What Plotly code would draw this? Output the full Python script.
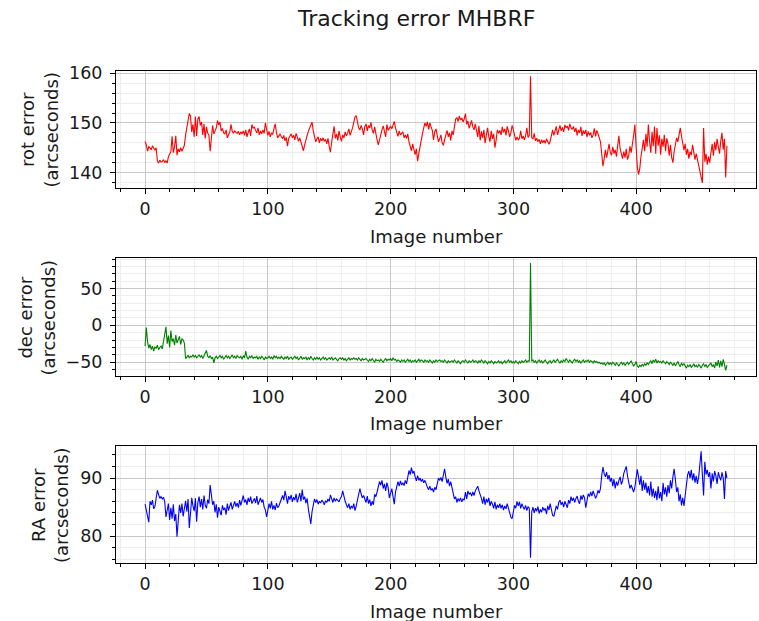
import plotly.graph_objects as go

# Image index shared by the three panels
image_number = list(range(475))

# Rotation tracking error (arcseconds)
rot_error = [
    146.3, 145.6, 144.3, 145.2, 145.0, 144.6, 145.4, 144.8, 144.5, 145.0,
    142.3, 141.9, 142.5, 142.1, 142.2, 142.6, 142.0, 142.4, 141.9, 143.2,
    143.8, 144.2, 147.3, 144.0, 145.2, 147.4, 143.5, 144.8, 144.2, 145.0,
    144.3, 144.8, 145.5, 147.6, 148.8, 150.5, 151.9, 151.4, 148.2, 149.7,
    147.2, 151.3, 147.4, 150.8, 151.3, 149.5, 150.2, 147.6, 149.8, 146.9,
    149.2, 148.0, 147.5, 144.3, 146.8, 149.5, 147.8, 148.3, 149.0, 150.5,
    149.6, 150.2, 148.4, 148.9, 148.0, 147.8, 148.6, 147.0, 147.8, 148.2,
    149.7, 148.3, 148.0, 148.4, 148.1, 147.9, 148.3, 147.6, 148.2, 147.8,
    148.4, 147.5, 148.6, 147.2, 148.1, 148.8, 147.4, 149.7, 148.9, 149.2,
    148.5, 148.0, 149.0, 147.6, 148.4, 147.8, 148.6, 147.9, 150.0, 148.2,
    147.5, 148.3, 147.2, 148.0, 147.7, 148.9, 149.8, 148.1, 147.0, 147.4,
    147.8, 147.2, 146.8, 147.5, 146.4, 147.1, 145.3, 146.9, 147.3, 147.8,
    147.0, 147.5, 146.6, 147.9, 147.2, 146.3, 147.0, 146.1, 145.2, 144.4,
    145.6, 146.8, 147.5, 148.3, 149.0, 149.6, 150.2, 148.4, 147.1, 146.2,
    146.8, 147.2, 146.0, 146.9, 146.4, 147.0, 146.3, 146.7, 145.8, 146.9,
    145.2, 144.1, 146.2, 147.5, 149.3, 146.9, 147.8, 146.5, 148.4, 147.2,
    146.3, 147.6, 147.0, 148.2, 147.4, 147.9, 148.8, 147.5, 148.2, 149.0,
    150.1, 151.2, 151.5, 150.3, 149.0, 148.6, 149.5, 148.8, 147.6, 149.3,
    149.8, 148.4, 149.5, 149.0, 150.1, 148.6, 147.9, 149.2, 147.4, 146.6,
    145.6, 146.8, 147.5, 148.6, 149.4, 148.0, 147.2, 149.7, 148.5, 148.9,
    149.4, 148.8, 149.6, 150.3, 149.0, 148.1, 147.3, 148.4, 147.6, 147.9,
    148.2, 147.0, 147.6, 146.9, 147.8, 146.2, 145.5, 144.4, 145.8, 144.9,
    143.6, 144.8, 142.3, 143.8, 145.5, 146.8, 147.9, 149.0, 150.0, 149.3,
    150.2, 148.7, 150.0, 149.2, 148.5, 146.6, 148.3, 148.8, 147.6, 146.2,
    146.8, 147.6, 146.0, 145.5, 146.6, 147.4, 148.5, 147.2, 148.0, 146.5,
    148.4, 147.6, 149.8, 150.8, 151.1, 150.3, 151.4, 150.6, 151.0, 150.2,
    150.8, 151.9, 149.7, 150.4, 148.9, 149.6, 150.5, 149.2, 148.6, 149.8,
    148.0, 147.2, 149.4, 146.5, 148.3, 147.0, 148.6, 145.9, 147.5, 149.0,
    147.3, 146.2, 148.4, 146.8, 147.8, 145.0, 146.6, 148.6, 147.9, 148.5,
    147.6, 149.2, 148.1, 148.8, 147.5, 149.3, 148.4, 147.2, 148.0, 149.5,
    148.6, 147.4, 146.5, 147.2, 146.6, 146.9, 148.4, 146.8, 147.4, 146.6,
    147.4, 149.0, 147.1, 147.5, 159.4, 147.0, 146.8, 147.9, 146.4, 146.9,
    146.2, 146.7, 145.8, 146.6, 146.0, 146.5, 145.9, 146.8, 146.1, 145.7,
    146.3, 147.8, 148.6, 147.5, 148.2, 149.3, 147.6, 148.8, 149.5, 148.4,
    149.1, 148.2, 149.6, 149.0, 149.4, 148.5, 149.8, 149.1, 148.7, 149.3,
    148.2, 149.0, 147.5, 148.6, 148.0, 149.2, 147.4, 148.5, 147.8, 148.6,
    147.2, 148.3, 147.5, 148.1, 147.0, 147.6, 148.9, 147.3, 148.5, 147.8,
    147.0, 146.2, 143.8, 141.3, 142.8, 144.6, 143.0, 144.2, 145.8, 144.0,
    143.5, 145.2, 143.8, 144.6, 143.2, 145.4, 147.4, 144.8, 143.6, 142.8,
    144.2, 143.0, 144.8, 142.6, 143.4, 145.3, 144.0, 146.4, 147.5, 149.7,
    144.6, 141.2, 139.6, 140.8, 143.2, 145.0, 146.6, 144.3, 147.8, 145.2,
    149.7, 146.2, 144.0, 148.2, 145.3, 149.3, 143.8, 149.0, 145.4, 147.5,
    143.6, 146.8, 145.2, 147.6, 144.3, 146.9, 145.8, 143.4, 145.6, 143.0,
    142.0, 144.2, 145.8, 147.0, 146.2, 147.6, 149.0, 147.4, 146.0, 144.5,
    145.8, 143.6, 144.8, 142.8, 144.2, 143.5, 145.6, 144.0, 142.6, 143.8,
    142.5, 141.8, 140.6, 138.9, 137.9, 149.0, 142.2, 143.8, 141.6, 143.2,
    142.0, 144.0, 145.8, 143.4, 146.2, 144.5, 146.8, 145.2, 143.8, 146.4,
    148.0, 144.6, 146.8, 139.0, 145.4,
]

# Declination tracking error (arcseconds)
dec_error = [
    -28, -3, -22, -31, -26, -33, -28, -35, -29, -31,
    -27, -33, -30, -28, -32, -20, -12, -2, -25, -14,
    -30, -7, -22, -18, -27, -13, -24, -19, -15, -26,
    -18, -20, -24, -45, -43, -41, -44, -42, -43, -40,
    -43, -41, -44, -42, -40, -43, -41, -45, -42, -39,
    -34, -42, -44, -41, -45, -43, -51, -44, -42, -45,
    -43, -41, -44, -42, -46, -43, -41, -44, -42, -45,
    -43, -40, -44, -42, -45, -41, -43, -44, -42, -46,
    -41, -44, -35, -43, -46, -42, -44, -41, -45, -43,
    -44, -42, -46, -43, -45, -42, -44, -47, -43, -45,
    -44, -42, -45, -43, -46, -41, -44, -42, -45, -43,
    -45, -42, -44, -46, -43, -45, -42, -46, -44, -43,
    -46, -44, -42, -45, -43, -47, -44, -42, -46, -44,
    -45, -43, -47, -44, -46, -42, -45, -47, -44, -46,
    -43, -46, -44, -47, -45, -43, -46, -44, -47, -45,
    -44, -46, -43, -47, -45, -44, -46, -48, -45, -44,
    -46, -44, -47, -45, -48, -46, -44, -47, -45, -46,
    -44, -46, -45, -47, -44, -46, -48, -45, -47, -46,
    -45, -47, -49, -46, -48, -45, -47, -50, -46, -48,
    -47, -49, -46, -48, -50, -47, -45, -48, -46, -47,
    -45, -48, -44, -47, -46, -49, -47, -48, -50, -47,
    -49, -47, -50, -48, -46, -49, -47, -50, -48, -49,
    -47, -50, -48, -46, -49, -47, -48, -50, -47, -49,
    -48, -50, -47, -49, -51, -48, -50, -47, -49, -48,
    -47, -49, -48, -50, -47, -49, -51, -48, -50, -49,
    -48, -50, -47, -49, -51, -48, -50, -52, -49, -48,
    -50, -47, -49, -51, -48, -50, -49, -47, -50, -48,
    -49, -51, -48, -50, -47, -49, -51, -48, -50, -52,
    -49, -51, -48, -50, -52, -49, -51, -50, -48, -51,
    -49, -52, -50, -48, -51, -49, -47, -50, -48, -51,
    -49, -51, -48, -50, -52, -49, -51, -48, -50, -49,
    -47, -50, -48, -49, 84.5, -49, -47, -50, -48, -51,
    -49, -47, -50, -48, -51, -49, -47, -50, -52, -49,
    -48, -51, -49, -47, -50, -48, -46, -49, -51, -48,
    -50, -47, -49, -45, -48, -50, -47, -49, -51, -48,
    -46, -49, -47, -50, -48, -51, -49, -47, -50, -48,
    -49, -47, -50, -48, -49, -51, -48, -50, -49, -51,
    -50, -52, -51, -53, -51, -54, -52, -50, -53, -51,
    -53, -50, -52, -54, -51, -53, -55, -52, -50, -53,
    -51, -54, -52, -50, -53, -51, -48, -52, -55, -53,
    -49, -55, -57, -54, -56, -53, -55, -52, -54, -51,
    -53, -50, -48, -52, -47, -50, -46, -51, -48, -50,
    -49, -51, -48, -50, -52, -49, -51, -53, -50, -52,
    -54, -51, -55, -52, -49, -53, -56, -51, -54, -52,
    -55, -58, -54, -56, -53, -57, -55, -52, -56, -54,
    -57, -53, -55, -58, -54, -52, -56, -53, -57, -55,
    -54, -51, -56, -53, -58, -50, -55, -47, -57, -48,
    -56, -46, -53, -61, -54,
]

# Right ascension tracking error (arcseconds)
ra_error = [
    85.5, 84.6, 83.5, 82.4, 86.0, 85.4, 86.2, 84.7, 85.1, 86.3,
    87.9, 87.2, 86.5, 86.8, 86.4, 86.7, 85.9, 83.3, 84.8, 85.6,
    82.8, 84.9, 83.0, 85.5, 82.6, 83.8, 79.9, 83.6, 85.4, 84.0,
    85.6, 83.4, 84.8, 86.1, 84.2, 86.4, 81.4, 83.9, 86.6, 85.2,
    84.3, 86.5, 82.5, 85.8, 86.8, 85.0, 86.4, 84.6, 87.0, 85.3,
    84.8, 86.3, 85.6, 88.8, 87.2, 85.4, 86.0, 84.1, 85.5, 83.2,
    85.0, 84.2, 83.6, 85.3, 84.5, 84.9, 83.7, 85.6, 84.4, 85.2,
    85.8, 84.6, 85.4, 86.0, 85.1, 85.7, 84.9, 86.2, 85.3, 86.0,
    87.0, 85.8, 86.3, 85.4, 86.6, 85.9, 86.8, 85.6, 86.2, 86.5,
    85.7, 86.9, 85.4, 86.2, 86.6, 85.8, 86.3, 85.0, 84.5, 83.3,
    84.4, 85.6, 84.8, 86.0, 84.6, 85.3, 84.5, 85.7, 84.9, 85.2,
    85.8, 86.4, 87.0, 86.2, 87.8, 86.8, 85.6, 86.9, 86.3, 87.1,
    85.9, 86.7, 86.2, 87.3, 85.8, 86.6, 87.4, 86.0, 88.0, 86.3,
    86.8, 85.7, 86.5, 84.7, 83.6, 82.1, 84.2, 85.6, 86.4, 85.8,
    86.3, 85.5, 86.0, 85.7, 86.2, 85.9, 85.4, 86.1, 85.8, 86.4,
    86.0, 87.1, 86.3, 85.8, 86.6, 86.0, 86.4, 86.2, 85.9, 86.5,
    86.8, 87.8, 86.5, 86.0, 85.4, 84.9, 85.6, 84.6, 85.2, 84.8,
    85.6, 84.4, 85.2, 86.4, 87.5, 88.2, 87.3, 86.6, 87.0, 86.4,
    85.8, 86.9, 85.6, 86.3, 85.2, 86.0, 85.4, 87.2, 86.8, 87.6,
    88.6, 89.4, 88.8, 89.6, 88.2, 89.0, 87.8, 89.2, 88.4, 86.6,
    87.4, 88.2, 86.8, 85.5, 87.6, 88.9, 89.4, 88.6, 89.5, 88.8,
    89.2, 88.7, 89.6, 89.0, 90.4, 91.3, 90.6, 91.8, 90.8, 91.2,
    90.2, 89.5, 90.4, 89.6, 90.0, 89.4, 89.8, 89.2, 89.6, 88.9,
    88.4, 88.0, 88.6, 87.9, 88.2, 87.6, 88.4, 88.0, 89.2, 90.0,
    89.6, 90.1, 89.4, 90.3, 91.6, 90.2, 89.1, 89.8, 88.6, 89.4,
    88.2, 87.4, 86.4, 86.8, 85.8, 86.5, 86.0, 86.6, 85.9, 86.4,
    86.2, 87.6, 86.4, 87.8, 87.2, 87.5, 86.9, 87.6, 87.0, 87.8,
    88.2, 88.6, 87.8, 87.2, 86.5, 85.6, 86.8, 85.4, 86.4, 85.8,
    86.6, 85.2, 86.0, 85.5, 84.8, 85.9, 84.6, 85.4, 84.9, 85.6,
    84.8, 85.4, 84.5, 85.2, 84.7, 85.6, 84.9, 83.8, 83.3, 83.0,
    84.2, 85.3, 84.8, 86.0, 85.2, 85.9, 84.8, 85.6, 85.0, 84.6,
    85.3, 84.4, 85.1, 84.8, 76.3, 84.2, 85.0, 84.0, 84.8, 84.3,
    85.1, 83.9, 84.6, 84.1, 85.0, 84.4, 84.8, 83.8, 85.2, 84.5,
    85.6, 84.3, 83.6, 83.4, 84.5, 85.2, 84.6, 85.8, 86.2, 85.4,
    85.9, 85.0, 86.0, 85.4, 84.9, 86.2, 85.6, 86.8, 86.1, 86.6,
    85.8, 86.5, 86.9, 86.0, 85.6, 87.0, 86.3, 87.1, 86.6, 84.9,
    86.4, 87.3, 86.8, 87.6, 86.9, 87.8, 87.2, 86.5, 87.0, 87.9,
    87.4, 88.2, 90.4, 91.9, 90.8, 90.2, 91.0, 89.8, 90.5, 89.4,
    90.0, 88.6, 89.8, 88.2, 89.4, 88.7, 89.6, 90.2, 88.9, 89.5,
    90.8, 91.6, 92.0, 90.4, 89.0, 88.2, 88.8, 88.0, 87.6, 88.4,
    89.6, 91.5, 90.2, 88.8, 90.4, 87.8, 89.6, 88.0, 89.2, 87.4,
    88.6, 87.0, 89.4, 86.8, 88.2, 86.6, 87.8, 86.2, 88.6, 86.5,
    87.6, 86.0, 89.2, 87.2, 88.4, 86.8, 88.8, 87.4, 89.6, 88.2,
    90.2, 91.6, 89.8, 87.6, 88.4, 86.0, 87.2, 85.3, 86.6, 85.2,
    87.0, 89.4, 90.6, 91.2, 90.0, 91.4, 89.6, 90.8, 89.2, 90.4,
    89.0, 90.2, 92.2, 94.6, 90.6, 87.0, 92.8, 90.6, 91.4, 90.2,
    91.0, 88.2, 90.8, 89.4, 91.2, 90.4, 89.0, 91.0, 90.2, 89.6,
    91.0, 90.0, 86.4, 91.2, 90.0,
]

panels = [
    ("rot error", rot_error, "red", 10, 2),
    ("dec error", dec_error, "green", 50, 10),
    ("RA error", ra_error, "blue", 10, 2),
]

FONT = "DejaVu Sans"
TXT = "#1a1a1a"
TICK_SIZE = 17.5
LABEL_SIZE = 18
TITLE_SIZE = 22

W, H = 759, 621
ML, MR, MT, MB = 116, 3, 71, 58
PW, PH = W - ML - MR, H - MT - MB

# vertical extent of each panel, in pixels from the top of the page
panel_px = [(71, 188.3), (257.7, 375.7), (446, 563)]


def py(ypix):
    return (H - MB - ypix) / PH


def padded(vals, frac=0.05):
    lo, hi = min(vals), max(vals)
    pad = (hi - lo) * frac
    return [lo - pad, hi + pad]


fig = go.Figure()
annotations = []
xr = padded(image_number)

for i, (name, vals, color, dmaj, dmin) in enumerate(panels, start=1):
    sfx = "" if i == 1 else str(i)
    fig.add_trace(go.Scatter(
        x=image_number, y=vals, mode="lines",
        line=dict(color=color, width=1.1),
        xaxis="x" + sfx, yaxis="y" + sfx, showlegend=False,
        hoverinfo="skip",
    ))
    top, bot = panel_px[i - 1]
    common = dict(
        showline=True, linecolor="black", linewidth=1, mirror=True,
        ticks="outside", ticklen=5, tickwidth=1, tickcolor="black",
        showgrid=True, gridcolor="#c8c8c8", gridwidth=1, zeroline=False,
        tickfont=dict(family=FONT, size=TICK_SIZE, color=TXT),
    )
    fig.layout["xaxis" + sfx] = dict(
        common, domain=[0, 1], range=xr, anchor="y" + sfx,
        tick0=0, dtick=100,
        minor=dict(dtick=20, tick0=0, ticks="outside", ticklen=3,
                   tickcolor="black", showgrid=True,
                   gridcolor="#ededed", gridwidth=1),
    )
    fig.layout["yaxis" + sfx] = dict(
        common, domain=[py(bot), py(top)], range=padded(vals),
        anchor="x" + sfx, tick0=0, dtick=dmaj, ticklabelstandoff=4,
        minor=dict(dtick=dmin, tick0=0, ticks="outside", ticklen=3,
                   tickcolor="black", showgrid=True,
                   gridcolor="#ededed", gridwidth=1),
    )
    # x-axis caption under each panel
    annotations.append(dict(
        text="Image number", xref="paper", yref="paper",
        x=0.5, y=py(bot + 48), xanchor="center", yanchor="middle",
        showarrow=False, font=dict(family=FONT, size=LABEL_SIZE, color=TXT),
    ))

# two-line y-axis captions
ycap = [(39, 129.6), (36.5, 318), (50, 505)]
for (name, *_), (cx, cy) in zip(panels, ycap):
    annotations.append(dict(
        text=name + "<br>(arcseconds)", xref="paper", yref="paper",
        x=(cx - ML) / PW, y=py(cy), xanchor="center", yanchor="middle",
        textangle=-90, showarrow=False,
        font=dict(family=FONT, size=LABEL_SIZE, color=TXT),
    ))

annotations.append(dict(
    text="Tracking error MHBRF", xref="paper", yref="paper",
    x=(415.5 - ML) / PW, y=py(18), xanchor="center", yanchor="middle",
    showarrow=False, font=dict(family=FONT, size=TITLE_SIZE, color=TXT),
))

fig.update_layout(
    width=W, height=H,
    margin=dict(l=ML, r=MR, t=MT, b=MB),
    paper_bgcolor="white", plot_bgcolor="white",
    annotations=annotations,
    font=dict(family=FONT, color=TXT),
)

fig.write_html("out.html")
